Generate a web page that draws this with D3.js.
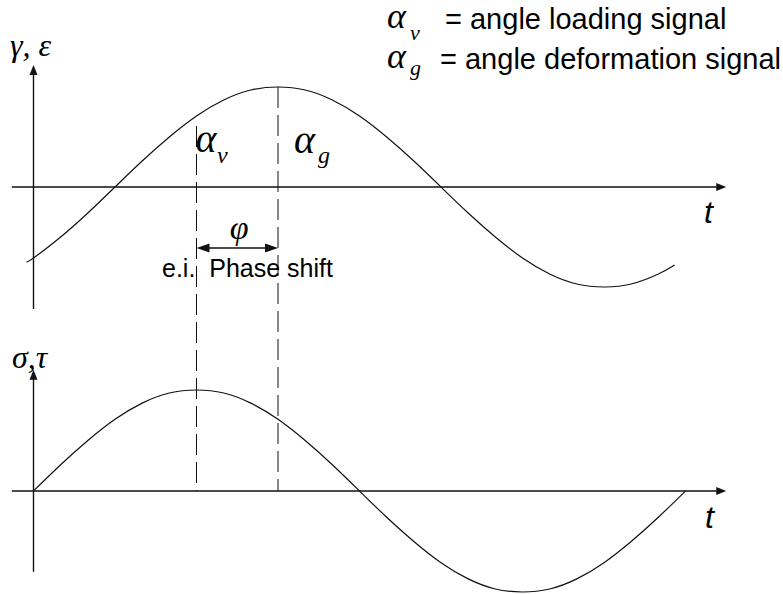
<!DOCTYPE html>
<html>
<head>
<meta charset="utf-8">
<script src="https://cdn.jsdelivr.net/npm/d3@7/dist/d3.min.js"></script>
<style>
  html, body { margin: 0; padding: 0; background: #fff; }
  svg { display: block; }
  .greek { font-family: "Liberation Serif", "Times New Roman", serif; font-style: italic; fill: #000; }
  .sans { font-family: "Liberation Sans", Arial, sans-serif; fill: #000; }
</style>
</head>
<body>
<svg id="chart" width="783" height="595"></svg>
<script>
// Phase angle (degrees of the loading cycle) at which each sample is taken
const deformationAngles = [-4, 0, 15, 30, 45, 60, 75, 90, 105, 120, 135, 150, 165, 180, 195, 210, 225, 240, 255, 270, 285, 300, 315, 330, 345, 354];
// Deformation signal (gamma, epsilon), normalised amplitude
const deformationValues = [-0.75, -0.71, -0.50, -0.26, 0.00, 0.26, 0.50, 0.71, 0.87, 0.97, 1.00, 0.97, 0.87, 0.71, 0.50, 0.26, 0.00, -0.26, -0.50, -0.71, -0.87, -0.97, -1.00, -0.97, -0.87, -0.78];

const loadingAngles = [0, 15, 30, 45, 60, 75, 90, 105, 120, 135, 150, 165, 180, 195, 210, 225, 240, 255, 270, 285, 300, 315, 330, 345, 360];
// Loading signal (sigma, tau), normalised amplitude
const loadingValues = [0.00, 0.26, 0.50, 0.71, 0.87, 0.97, 1.00, 0.97, 0.87, 0.71, 0.50, 0.26, 0.00, -0.26, -0.50, -0.71, -0.87, -0.97, -1.00, -0.97, -0.87, -0.71, -0.50, -0.26, 0.00];

// Peaks of the two signals and the resulting phase shift
const loadingPeak = 90;
const deformationPeak = 135;

// Axis extents in data units
const timeExtent = [-12, 382.5];
const topAxisExtent = [-1.22, 1.22];
const bottomAxisExtent = [-0.80, 1.20];

const svg = d3.select("#chart");
const ink = "#111";

const x = d3.scaleLinear().domain([0, 360]).range([33.5, 685.5]);
const yTop = d3.scaleLinear().domain([-1, 1]).range([287, 87]);
const yBot = d3.scaleLinear().domain([-1, 1]).range([592, 390]);

function arrowHead(g, tipX, tipY, dir, len, half) {
  // dir: unit vector the arrow points along
  const [dx, dy] = dir;
  const bx = tipX - dx * len, by = tipY - dy * len;
  const px = -dy * half, py = dx * half;
  g.append("path")
    .attr("d", `M${tipX},${tipY}L${bx + px},${by + py}L${bx - px},${by - py}Z`)
    .attr("fill", ink);
}

function drawAxes(yScale, yExtent) {
  const g = svg.append("g");
  const x0 = x(0), y0 = yScale(0);
  g.append("line")
    .attr("x1", x(timeExtent[0])).attr("x2", x(timeExtent[1]) - 6)
    .attr("y1", y0).attr("y2", y0)
    .attr("stroke", ink).attr("stroke-width", 1.4);
  arrowHead(g, x(timeExtent[1]), y0, [1, 0], 10, 4);
  g.append("line")
    .attr("x1", x0).attr("x2", x0)
    .attr("y1", yScale(yExtent[0])).attr("y2", yScale(yExtent[1]) + 6)
    .attr("stroke", ink).attr("stroke-width", 1.4);
  arrowHead(g, x0, yScale(yExtent[1]), [0, -1], 10, 4);
}

drawAxes(yTop, topAxisExtent);
drawAxes(yBot, bottomAxisExtent);

// Signals
const deformationLine = d3.line()
  .x((d, i) => x(deformationAngles[i]))
  .y(d => yTop(d))
  .curve(d3.curveNatural);
svg.append("path")
  .attr("d", deformationLine(deformationValues))
  .attr("fill", "none").attr("stroke", ink).attr("stroke-width", 1.2);

const loadingLine = d3.line()
  .x((d, i) => x(loadingAngles[i]))
  .y(d => yBot(d))
  .curve(d3.curveNatural);
svg.append("path")
  .attr("d", loadingLine(loadingValues))
  .attr("fill", "none").attr("stroke", ink).attr("stroke-width", 1.2);

// Dashed guides through the peaks
svg.append("line")
  .attr("x1", x(loadingPeak)).attr("x2", x(loadingPeak))
  .attr("y1", yTop(0.61)).attr("y2", yBot(0))
  .attr("stroke", ink).attr("stroke-width", 1).attr("stroke-dasharray", "21,7");
svg.append("line")
  .attr("x1", x(deformationPeak)).attr("x2", x(deformationPeak))
  .attr("y1", yTop(1)).attr("y2", yBot(0))
  .attr("stroke", ink).attr("stroke-width", 1).attr("stroke-dasharray", "21,7");

// Phase shift arrow
const phaseY = yTop(-0.61);
const pa = svg.append("g");
pa.append("line")
  .attr("x1", x(loadingPeak) + 8).attr("x2", x(deformationPeak) - 8)
  .attr("y1", phaseY).attr("y2", phaseY)
  .attr("stroke", ink).attr("stroke-width", 1.4);
arrowHead(pa, x(loadingPeak), phaseY, [-1, 0], 13, 4.5);
arrowHead(pa, x(deformationPeak), phaseY, [1, 0], 13, 4.5);

svg.append("text").attr("class", "greek")
  .attr("x", (x(loadingPeak) + x(deformationPeak)) / 2 + 2).attr("y", 239)
  .attr("text-anchor", "middle").attr("font-size", 34).text("φ");

svg.append("text").attr("class", "sans")
  .attr("x", 162).attr("y", 277).attr("font-size", 25)
  .style("white-space", "pre").text("e.i.  Phase shift");

// Peak labels
function alphaLabel(px, py, size, sub, sx, sy, subSize) {
  svg.append("text").attr("class", "greek")
    .attr("x", px).attr("y", py).attr("font-size", size).text("α");
  svg.append("text").attr("class", "greek")
    .attr("x", sx).attr("y", sy).attr("font-size", subSize).text(sub);
}
alphaLabel(x(loadingPeak) - 1, 152, 40, "v", 217, 163, 24);
alphaLabel(x(deformationPeak) + 16, 153, 40, "g", 318, 163, 24);

// Axis titles
svg.append("text").attr("class", "greek")
  .attr("x", 10).attr("y", 56).attr("font-size", 32).text("γ, ε");
svg.append("text").attr("class", "greek")
  .attr("x", 12).attr("y", 368).attr("font-size", 32).text("σ,τ");

svg.append("text").attr("class", "sans").attr("font-style", "italic")
  .attr("x", 704).attr("y", 223).attr("font-size", 32).text("t");
svg.append("text").attr("class", "sans").attr("font-style", "italic")
  .attr("x", 705).attr("y", 528).attr("font-size", 32).text("t");

// Legend
alphaLabel(387, 28, 36, "v", 410, 40, 22);
svg.append("text").attr("class", "sans")
  .attr("x", 445).attr("y", 29).attr("font-size", 29).text("= angle loading signal");
alphaLabel(387, 68, 36, "g", 410, 75, 22);
svg.append("text").attr("class", "sans")
  .attr("x", 440).attr("y", 69).attr("font-size", 29).text("= angle deformation signal");
</script>
</body>
</html>
